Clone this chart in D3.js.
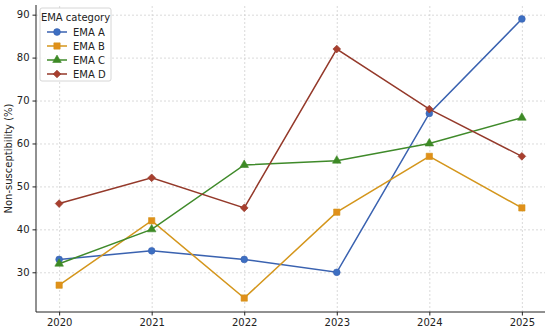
<!DOCTYPE html>
<html>
<head>
<meta charset="utf-8">
<script src="https://cdn.jsdelivr.net/npm/d3@7"></script>
<style>
  body { margin: 0; background: #fff; }
  text { font-family: "DejaVu Sans", sans-serif; }
  .grid line { stroke: #d0d0d0; stroke-dasharray: 2,2; stroke-width: 0.8; }
  .grid path { display: none; }
  .axis text { font-size: 10px; fill: #222; }
  .axis path, .axis line { stroke: #222; }
</style>
</head>
<body>
<script>
// Data
const years = [2020, 2021, 2022, 2023, 2024, 2025];
const emaA = [33, 35, 33, 30, 67, 89];
const emaB = [27, 42, 24, 44, 57, 45];
const emaC = [32, 40, 55, 56, 60, 66];
const emaD = [46, 52, 45, 82, 68, 57];
const seriesNames = ["EMA A", "EMA B", "EMA C", "EMA D"];
const yTicks = [30, 40, 50, 60, 70, 80, 90];

// Styles
const colors = ["#3a62b0", "#d4961c", "#3f8a2a", "#94392a"];
const markerColors = ["#3d6fc2", "#e0901a", "#3d8a25", "#a83f2e"];
const symbols = [d3.symbolCircle, d3.symbolSquare, d3.symbolTriangle, d3.symbolSquare];
const symSizes = [36, 40, 32, 30];
const symRotate = [0, 0, 0, 45];

const w = 550, h = 330;
const padL = 36, padR = 545, padT = 5, padB = 312;

const series = [emaA, emaB, emaC, emaD].map((vals, i) => ({
  name: seriesNames[i],
  values: vals.map((v, j) => ({ year: years[j], value: v }))
}));

// Scales (5% margins like matplotlib)
const xScale = d3.scaleLinear().domain([2020 - 0.25, 2025 + 0.25]).range([padL, padR]);
const yScale = d3.scaleLinear().domain([20.75, 92.25]).range([padB, padT]);

const svg = d3.select("body").append("svg")
  .attr("width", w).attr("height", h);

// Grid
svg.append("g").attr("class", "grid")
  .attr("transform", "translate(0," + padB + ")")
  .call(d3.axisBottom(xScale).tickValues(years).tickSize(-(padB - padT)).tickFormat(""));
svg.append("g").attr("class", "grid")
  .attr("transform", "translate(" + padL + ",0)")
  .call(d3.axisLeft(yScale).tickValues(yTicks).tickSize(-(padR - padL)).tickFormat(""));

// Lines and markers
const line = d3.line().x(d => xScale(d.year)).y(d => yScale(d.value));

series.forEach((s, i) => {
  svg.append("path")
    .datum(s.values)
    .attr("fill", "none")
    .attr("stroke", colors[i])
    .attr("stroke-width", 1.5)
    .attr("d", line);

  svg.selectAll(".m" + i)
    .data(s.values)
    .enter()
    .append("path")
    .attr("class", "m" + i)
    .attr("transform", d => "translate(" + xScale(d.year) + "," + yScale(d.value) + ") rotate(" + symRotate[i] + ")")
    .attr("d", d3.symbol().type(symbols[i]).size(symSizes[i]))
    .attr("fill", markerColors[i])
    .attr("stroke", colors[i])
    .attr("stroke-width", 0.6);
});

// Axes
svg.append("g").attr("class", "axis")
  .attr("transform", "translate(0," + padB + ")")
  .call(d3.axisBottom(xScale).tickValues(years).tickFormat(d3.format("d")).tickSize(3.5).tickPadding(3))
  .call(g => g.select(".domain").attr("d", "M" + padL + ",0H" + padR));
svg.append("g").attr("class", "axis")
  .attr("transform", "translate(" + padL + ",0)")
  .call(d3.axisLeft(yScale).tickValues(yTicks).tickSize(3.5).tickPadding(3))
  .call(g => g.select(".domain").attr("d", "M0," + padT + "V" + padB));

// Y axis label
svg.append("text")
  .attr("transform", "translate(12," + ((padT + padB) / 2) + ") rotate(-90)")
  .attr("text-anchor", "middle")
  .attr("font-size", "10px")
  .attr("fill", "#222")
  .text("Non-susceptibility (%)");

// Legend
const legend = svg.append("g").attr("transform", "translate(40,8)");
legend.append("rect")
  .attr("width", 71).attr("height", 73)
  .attr("rx", 2)
  .attr("fill", "white").attr("fill-opacity", 0.85)
  .attr("stroke", "#cccccc").attr("stroke-width", 0.8);
legend.append("text")
  .attr("x", 35.5).attr("y", 13)
  .attr("text-anchor", "middle")
  .attr("font-size", "10px").attr("fill", "#222")
  .text("EMA category");
seriesNames.forEach((name, i) => {
  const y = 24 + i * 14;
  legend.append("line")
    .attr("x1", 7).attr("x2", 27).attr("y1", y).attr("y2", y)
    .attr("stroke", colors[i]).attr("stroke-width", 1.5);
  legend.append("path")
    .attr("transform", "translate(17," + y + ") rotate(" + symRotate[i] + ")")
    .attr("d", d3.symbol().type(symbols[i]).size(symSizes[i]))
    .attr("fill", markerColors[i]).attr("stroke", colors[i]).attr("stroke-width", 0.6);
  legend.append("text")
    .attr("x", 33).attr("y", y + 3.5)
    .attr("font-size", "10px").attr("fill", "#222")
    .text(name);
});
</script>
</body>
</html>
